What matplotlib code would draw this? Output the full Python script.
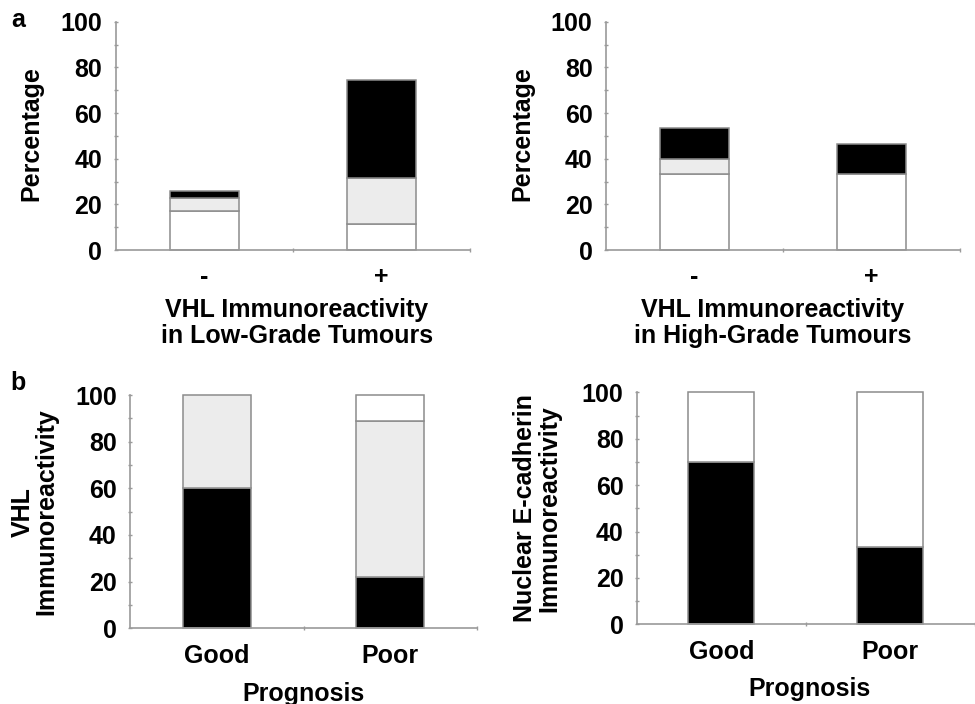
import numpy as np
import matplotlib
matplotlib.use("Agg")
import matplotlib.pyplot as plt

plt.rcParams['font.family'] = ['Liberation Sans', 'DejaVu Sans']
plt.rcParams['font.weight'] = 'bold'
plt.rcParams['axes.labelweight'] = 'bold'

# ---- data (percent) ----
grade_cats = ['-', '+']
low_white = [17.1, 11.4]
low_gray = [5.7, 20.0]
low_black = [2.9, 42.9]

high_white = [33.3, 33.3]
high_gray = [6.7, 0.0]
high_black = [13.3, 13.3]

prog_cats = ['Good', 'Poor']
vhl_black = [60.0, 22.2]
vhl_gray = [40.0, 66.7]
vhl_white = [0.0, 11.1]

ecad_black = [70.0, 33.3]
ecad_white = [30.0, 66.7]

GRAY = '#ececec'
EDGE = '#8c8c8c'
AXC = '#9a9a9a'
W, H = 975, 704
TICK_FS = 18
LAB_FS = 18


def px_axes(x0, x1, ytop, ybot):
    return [x0 / W, 1 - ybot / H, (x1 - x0) / W, (ybot - ytop) / H]


def stack(ax, cats, layers):
    x = np.arange(len(cats))
    bottom = np.zeros(len(cats))
    for vals, col in layers:
        vals = np.array(vals)
        for i in range(len(cats)):
            if vals[i] > 0:
                ax.bar(x[i], vals[i], 0.39, bottom=bottom[i], color=col,
                       edgecolor=EDGE, linewidth=1.1, clip_on=False, zorder=2)
        bottom += vals


def style(ax, cats):
    ax.set_xlim(-0.5, 1.5)
    ax.set_ylim(0, 100)
    for s in ['top', 'right']:
        ax.spines[s].set_visible(False)
    for s in ['left', 'bottom']:
        ax.spines[s].set_color(AXC)
        ax.spines[s].set_linewidth(1.2)
    ax.set_yticks(np.arange(0, 101, 20))
    ax.set_yticks(np.arange(10, 100, 20), minor=True)
    ax.set_xticks([0, 1])
    ax.set_xticklabels(cats)
    ax.set_xticks([0.5, 1.5], minor=True)
    ax.tick_params(axis='y', which='both', direction='inout', length=3,
                   width=1, color=AXC, labelsize=TICK_FS, pad=8)
    ax.tick_params(axis='x', which='major', length=0, labelsize=TICK_FS, pad=11)
    ax.tick_params(axis='x', which='minor', direction='inout', length=3,
                   width=1, color=AXC)


fig = plt.figure(figsize=(W / 100, H / 100), dpi=100)

ax1 = fig.add_axes(px_axes(115.5, 470, 21.7, 250))
stack(ax1, grade_cats, [(low_white, 'white'), (low_gray, GRAY), (low_black, 'black')])
style(ax1, grade_cats)
ax1.set_ylabel('Percentage', fontsize=LAB_FS, va='center')
ax1.yaxis.set_label_coords(-0.236, 0.51)
ax1.set_xlabel('VHL Immunoreactivity\nin Low-Grade Tumours', fontsize=LAB_FS,
               va='center', linespacing=1.15)
ax1.xaxis.set_label_coords(0.512, -0.32)

ax2 = fig.add_axes(px_axes(605.7, 960, 21.7, 250))
stack(ax2, grade_cats, [(high_white, 'white'), (high_gray, GRAY), (high_black, 'black')])
style(ax2, grade_cats)
ax2.set_ylabel('Percentage', fontsize=LAB_FS, va='center')
ax2.yaxis.set_label_coords(-0.236, 0.51)
ax2.set_xlabel('VHL Immunoreactivity\nin High-Grade Tumours', fontsize=LAB_FS,
               va='center', linespacing=1.15)
ax2.xaxis.set_label_coords(0.472, -0.32)

ax3 = fig.add_axes(px_axes(130, 477, 395, 628.3))
stack(ax3, prog_cats, [(vhl_black, 'black'), (vhl_gray, GRAY), (vhl_white, 'white')])
style(ax3, prog_cats)
ax3.set_ylabel('VHL\nImmunoreactivity', fontsize=LAB_FS, va='center', linespacing=1.0)
ax3.yaxis.set_label_coords(-0.275, 0.5)
ax3.set_xlabel('Prognosis', fontsize=LAB_FS, va='center')
ax3.xaxis.set_label_coords(0.5, -0.28)

ax4 = fig.add_axes(px_axes(636.7, 975, 392.3, 624.3))
stack(ax4, prog_cats, [(ecad_black, 'black'), (ecad_white, 'white')])
style(ax4, prog_cats)
ax4.set_ylabel('Nuclear E-cadherin\nImmunoreactivity', fontsize=LAB_FS, va='center',
               linespacing=1.0)
ax4.yaxis.set_label_coords(-0.295, 0.5)
ax4.set_xlabel('Prognosis', fontsize=LAB_FS, va='center')
ax4.xaxis.set_label_coords(0.512, -0.28)

fig.text(18 / W, 1 - 20 / H, 'a', fontsize=18, ha='center', va='center')
fig.text(18 / W, 1 - 383 / H, 'b', fontsize=18, ha='center', va='center')

fig.savefig('out.png', dpi=100)
